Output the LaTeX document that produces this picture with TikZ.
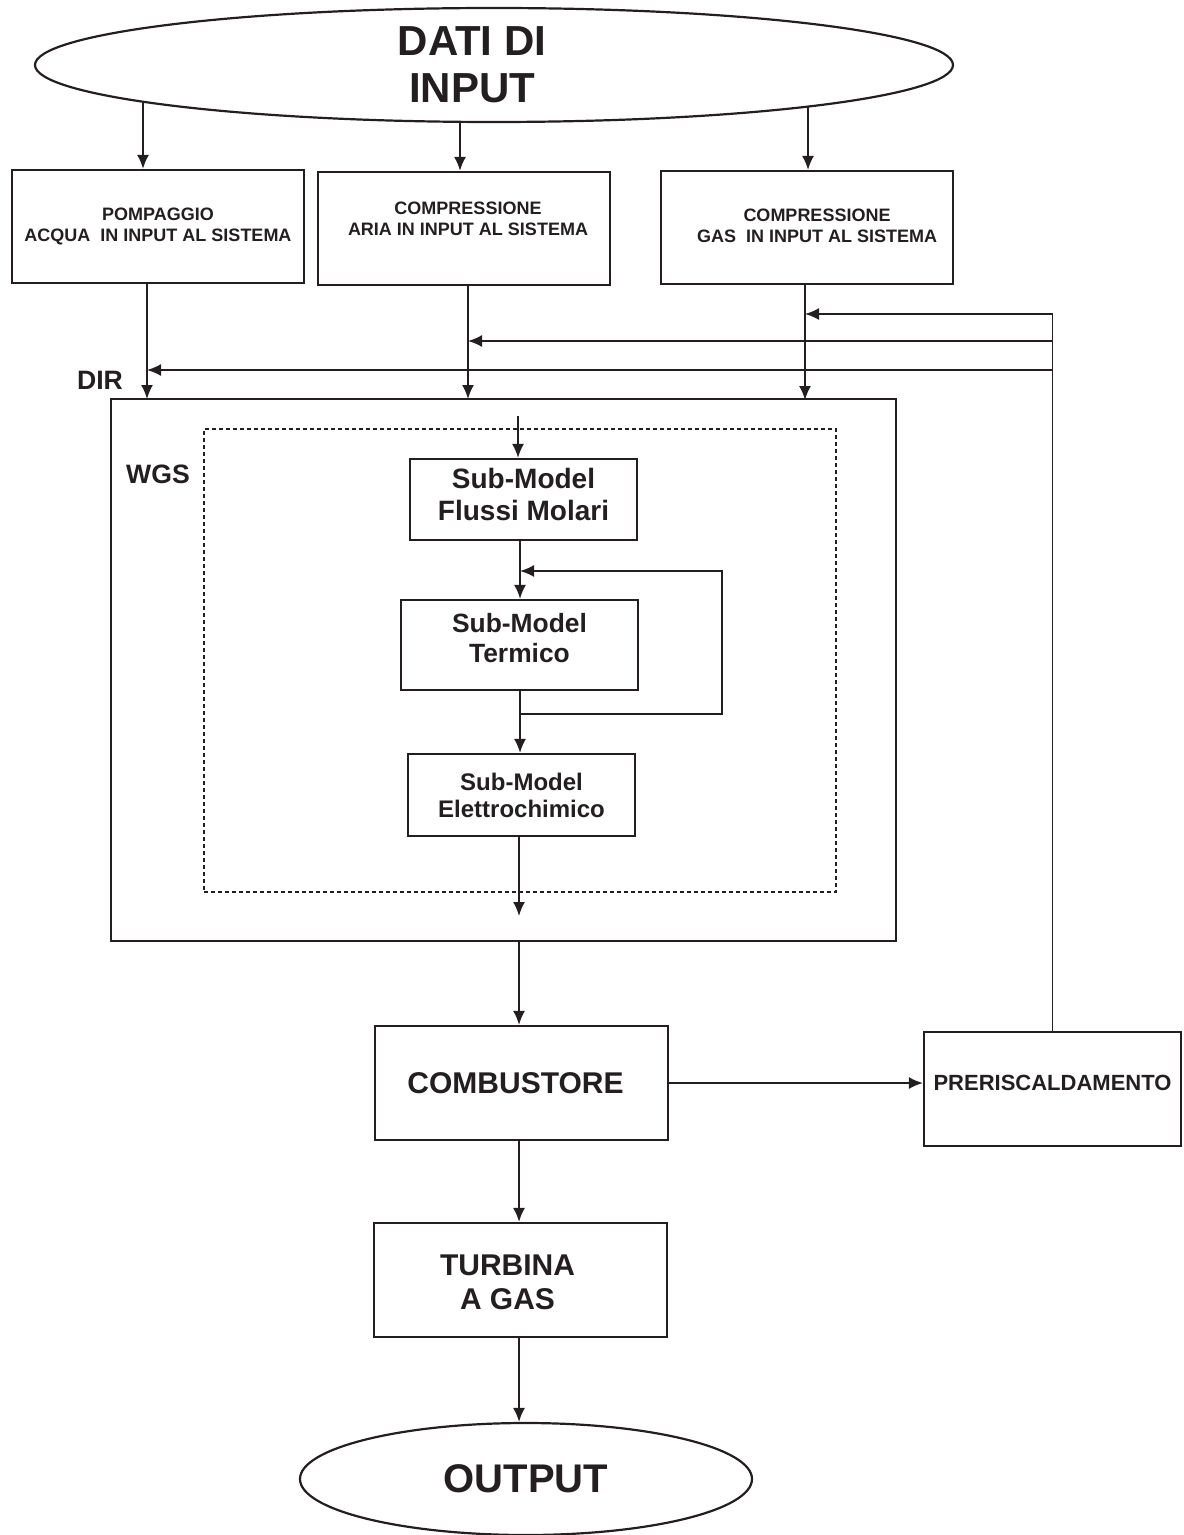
\documentclass[tikz,border=0pt]{standalone}
\usepackage{fontspec}
\setmainfont{Liberation Sans}
\usetikzlibrary{calc, positioning, shapes.geometric, arrows.meta}
\definecolor{ink}{HTML}{231F20}
\tikzset{
  blk/.style={draw=ink, text=ink, line width=1.1pt, align=center, inner sep=0pt},
  oval/.style={draw=ink, text=ink, ellipse, line width=1.1pt, align=center, inner sep=0pt},
  lbl/.style={text=ink, align=center, inner sep=0pt},
  arr/.style={draw=ink, -{Latex[length=7pt, width=6pt]}, line width=0.9pt},
  tag/.style={text=ink, font=\bfseries\fontsize{13.3}{16}\selectfont, inner sep=0pt}
}
\begin{document}
\begin{tikzpicture}[x=0.5pt, y=-0.5pt]
  \useasboundingbox (0,0) rectangle (1183,1535);
  \node[oval, minimum width=459pt, minimum height=57pt,
    label={[lbl, font=\bfseries\fontsize{21}{23.5}\selectfont, xshift=-11pt]center:{DATI DI\\INPUT}}] (input) at (494,65) {};
  \foreach \name/\x/\y/\dx/\dy/\txt in {
    pomp/158/226.5/0/0/{POMPAGGIO\\ACQUA\ \ IN INPUT AL SISTEMA},
    aria/464/228.5/2/5/{COMPRESSIONE\\ARIA IN INPUT AL SISTEMA},
    gas/807/227.5/5/1/{COMPRESSIONE\\GAS\ \ IN INPUT AL SISTEMA}} {
    \node[blk, minimum width=146pt, minimum height=56.5pt,
      label={[lbl, font=\bfseries\fontsize{9}{10.5}\selectfont, xshift=\dx pt, yshift=\dy pt]center:{\txt}}] (\name) at (\x,\y) {};
  }
  \coordinate (acquaTop) at (143,102);
  \coordinate (ariaTop) at (460,122);
  \coordinate (gasTop) at (808,107);
  \coordinate (acquaIn) at (147,399);
  \coordinate (ariaIn) at (468,399);
  \coordinate (gasIn) at (805,400);
  \draw[arr] (acquaTop) -- (acquaTop |- pomp.north);
  \draw[arr] (ariaTop) -- (ariaTop |- aria.north);
  \draw[arr] (gasTop) -- (gasTop |- gas.north);
  \draw[arr] (pomp.south -| acquaIn) -- (acquaIn);
  \draw[arr] (aria.south -| ariaIn) -- (ariaIn);
  \draw[arr] (gas.south -| gasIn) -- (gasIn);

  \node[blk, minimum width=392.5pt, minimum height=271pt] (dir) at (503.5,670) {};
  \node[tag] (dirlabel) at (100,380) {DIR};
  \node[draw=ink, dash pattern=on 2pt off 1.5pt, line width=0.8pt, minimum width=316pt, minimum height=231.5pt] (wgs) at (520,660.5) {};
  \node[tag] (wgslabel) at (158,474) {WGS};

  \node[blk, minimum width=113.5pt, minimum height=40.5pt,
    label={[lbl, font=\bfseries\fontsize{14}{16}\selectfont, yshift=2.5pt]center:{Sub-Model\\Flussi Molari}}] (flussi) at (523.5,499.5) {};
  \node[blk, minimum width=118.5pt, minimum height=45pt,
    label={[lbl, font=\bfseries\fontsize{13.2}{15}\selectfont, yshift=3.5pt]center:{Sub-Model\\Termico}}] (termico) at (519.5,645) {};
  \node[blk, minimum width=113.5pt, minimum height=41pt, font=\bfseries\fontsize{12}{13.5}\selectfont] (elettro) at (521.5,795) {Sub-Model\\Elettrochimico};
  \coordinate (wgsIn) at (518,416);
  \coordinate (wgsOut) at (519,916);
  \coordinate (loopT) at (520,571);
  \coordinate (loopB) at (520,714);
  \draw[arr] (wgsIn) -- (wgsIn |- flussi.north);
  \draw[arr] (flussi.south -| loopT) -- (loopT |- termico.north);
  \draw[arr] (termico.south -| loopT) -- (loopT |- elettro.north);
  \draw[arr] (loopB) -- ++(202,0) |- (loopT);
  \draw[arr] (elettro.south -| wgsOut) -- (wgsOut);

  \node[blk, minimum width=146.5pt, minimum height=57pt,
    label={[lbl, font=\bfseries\fontsize{15}{17}\selectfont, xshift=-3pt]center:{COMBUSTORE}}] (comb) at (521.5,1083) {};
  \node[blk, minimum width=128.5pt, minimum height=57pt,
    label={[lbl, font=\bfseries\fontsize{11}{13}\selectfont, yshift=3pt]center:{PRERISCALDAMENTO}}] (pre) at (1052.5,1089) {};
  \node[blk, minimum width=146.5pt, minimum height=57pt,
    label={[lbl, font=\bfseries\fontsize{15}{17}\selectfont, xshift=-6.5pt, yshift=-1pt]center:{TURBINA\\A GAS}}] (turb) at (520.5,1280) {};
  \node[oval, minimum width=226pt, minimum height=56pt, font=\bfseries\fontsize{20}{22}\selectfont] (out) at (526,1479) {OUTPUT};
  \draw[arr] (dir.south -| wgsOut) -- (wgsOut |- comb.north);
  \draw[arr] (comb.east) -- (pre.west |- comb.east);
  \draw[arr] (comb.south -| wgsOut) -- (wgsOut |- turb.north);
  \draw[arr] (turb.south -| wgsOut) -- (wgsOut |- out.north);

  \coordinate (fbGas) at (805,314);
  \coordinate (fbAria) at (468,341);
  \coordinate (fbAcqua) at (147,370);
  \draw[arr] (pre.north) |- (fbGas);
  \draw[arr] (pre.north |- fbAria) -- (fbAria);
  \draw[arr] (pre.north |- fbAcqua) -- (fbAcqua);
\end{tikzpicture}
\end{document}
